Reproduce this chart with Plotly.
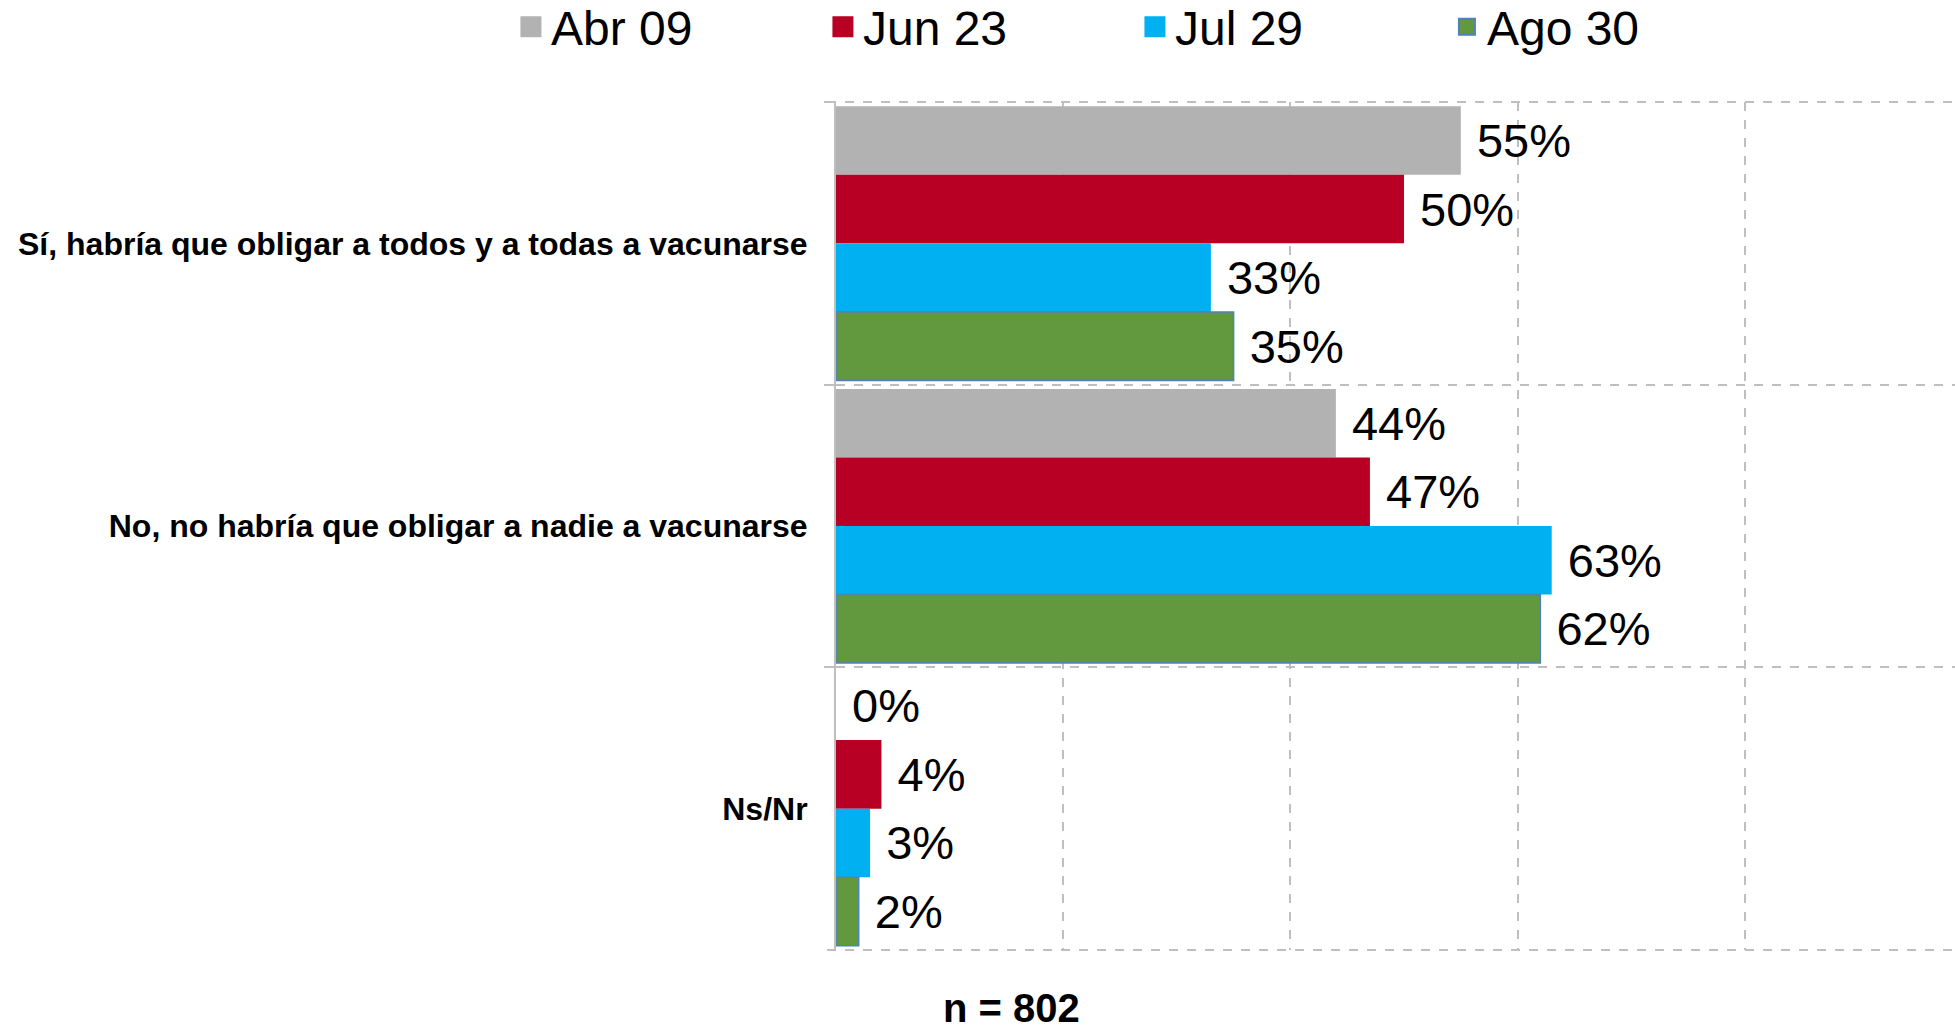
import plotly.graph_objects as go

# ---- data ----
categories = [
    "Sí, habría que obligar a todos y a todas a vacunarse",
    "No, no habría que obligar a nadie a vacunarse",
    "Ns/Nr",
]
series_names = ["Abr 09", "Jun 23", "Jul 29", "Ago 30"]
abr_09 = [55, 44, 0]
jun_23 = [50, 47, 4]
jul_29 = [33, 63, 3]
ago_30 = [35, 62, 2]
sample_note = "n = 802"

series_values = [abr_09, jun_23, jul_29, ago_30]
colors = ["#B2B2B2", "#B70023", "#00B0F0", "#62983E"]
outlines = ["#B2B2B2", "#B70023", "#00B0F0", "#4F81BD"]

FONT = "Arial, Liberation Sans, sans-serif"
GRID = "#BFBFBF"

fig = go.Figure()

for name, vals, col, oc in zip(series_names, series_values, colors, outlines):
    fig.add_trace(go.Bar(
        y=categories, x=vals, orientation="h", name=name,
        marker=dict(color=col, line=dict(color=oc, width=1.5 if oc != col else 0)),
        texttemplate="\u00a0%{x}%", textposition="outside",
        textfont=dict(family=FONT, size=47, color="#000000"),
        constraintext="none", cliponaxis=False, showlegend=False,
        hoverinfo="skip",
    ))

# legend entries (larger square markers)
for name, col, oc in zip(series_names, colors, outlines):
    fig.add_trace(go.Scatter(
        x=[None], y=[None], mode="markers", name=name,
        marker=dict(symbol="square", size=16, color=col,
                    line=dict(color=oc, width=5 if oc == col else 2)),
        showlegend=True,
    ))

# dashed boundary lines at top and bottom of the plot area
for yy in (0, 1):
    fig.add_shape(type="line", xref="paper", yref="paper",
                  x0=-0.008, x1=1, y0=yy, y1=yy,
                  line=dict(color=GRID, width=2, dash="dash"), layer="below")

fig.update_layout(
    width=1955, height=1033,
    margin=dict(l=836, r=0, t=102, b=83, autoexpand=False),
    paper_bgcolor="white", plot_bgcolor="white",
    barmode="group", bargap=0.03, bargroupgap=0,
    font=dict(family=FONT, color="#000000"),
    legend=dict(
        orientation="h", xref="paper", yref="paper",
        x=-0.2905, y=1.1333, xanchor="left", yanchor="top",
        font=dict(family=FONT, size=48, color="#000000"),
        entrywidth=267, entrywidthmode="pixels",
        itemsizing="trace", bgcolor="rgba(0,0,0,0)",
    ),
    xaxis=dict(
        range=[0, 98.5], dtick=20, tick0=0,
        showgrid=True, gridcolor=GRID, griddash="dash", gridwidth=2,
        showticklabels=False, zeroline=False, showline=False, ticks="",
    ),
    yaxis=dict(
        autorange="reversed", type="category",
        tickson="boundaries", ticks="outside", ticklen=10, tickcolor=GRID, tickwidth=2,
        showgrid=True, gridcolor=GRID, griddash="dash", gridwidth=2,
        showline=True, linecolor=GRID, linewidth=2,
        tickfont=dict(family=FONT, size=32, color="#000000", weight="bold"),
        ticklabelstandoff=20, zeroline=False,
    ),
    annotations=[dict(
        text="<b>" + sample_note + "</b>", xref="paper", yref="paper",
        x=0.157, y=-0.0955, xanchor="center", yanchor="bottom", showarrow=False,
        borderpad=0,
        font=dict(family=FONT, size=40, color="#000000"),
    )],
)

fig.write_html(
    "out.html",
    config={"displayModeBar": False},
    post_script="document.body.style.margin='0';document.body.style.overflow='hidden';",
)
